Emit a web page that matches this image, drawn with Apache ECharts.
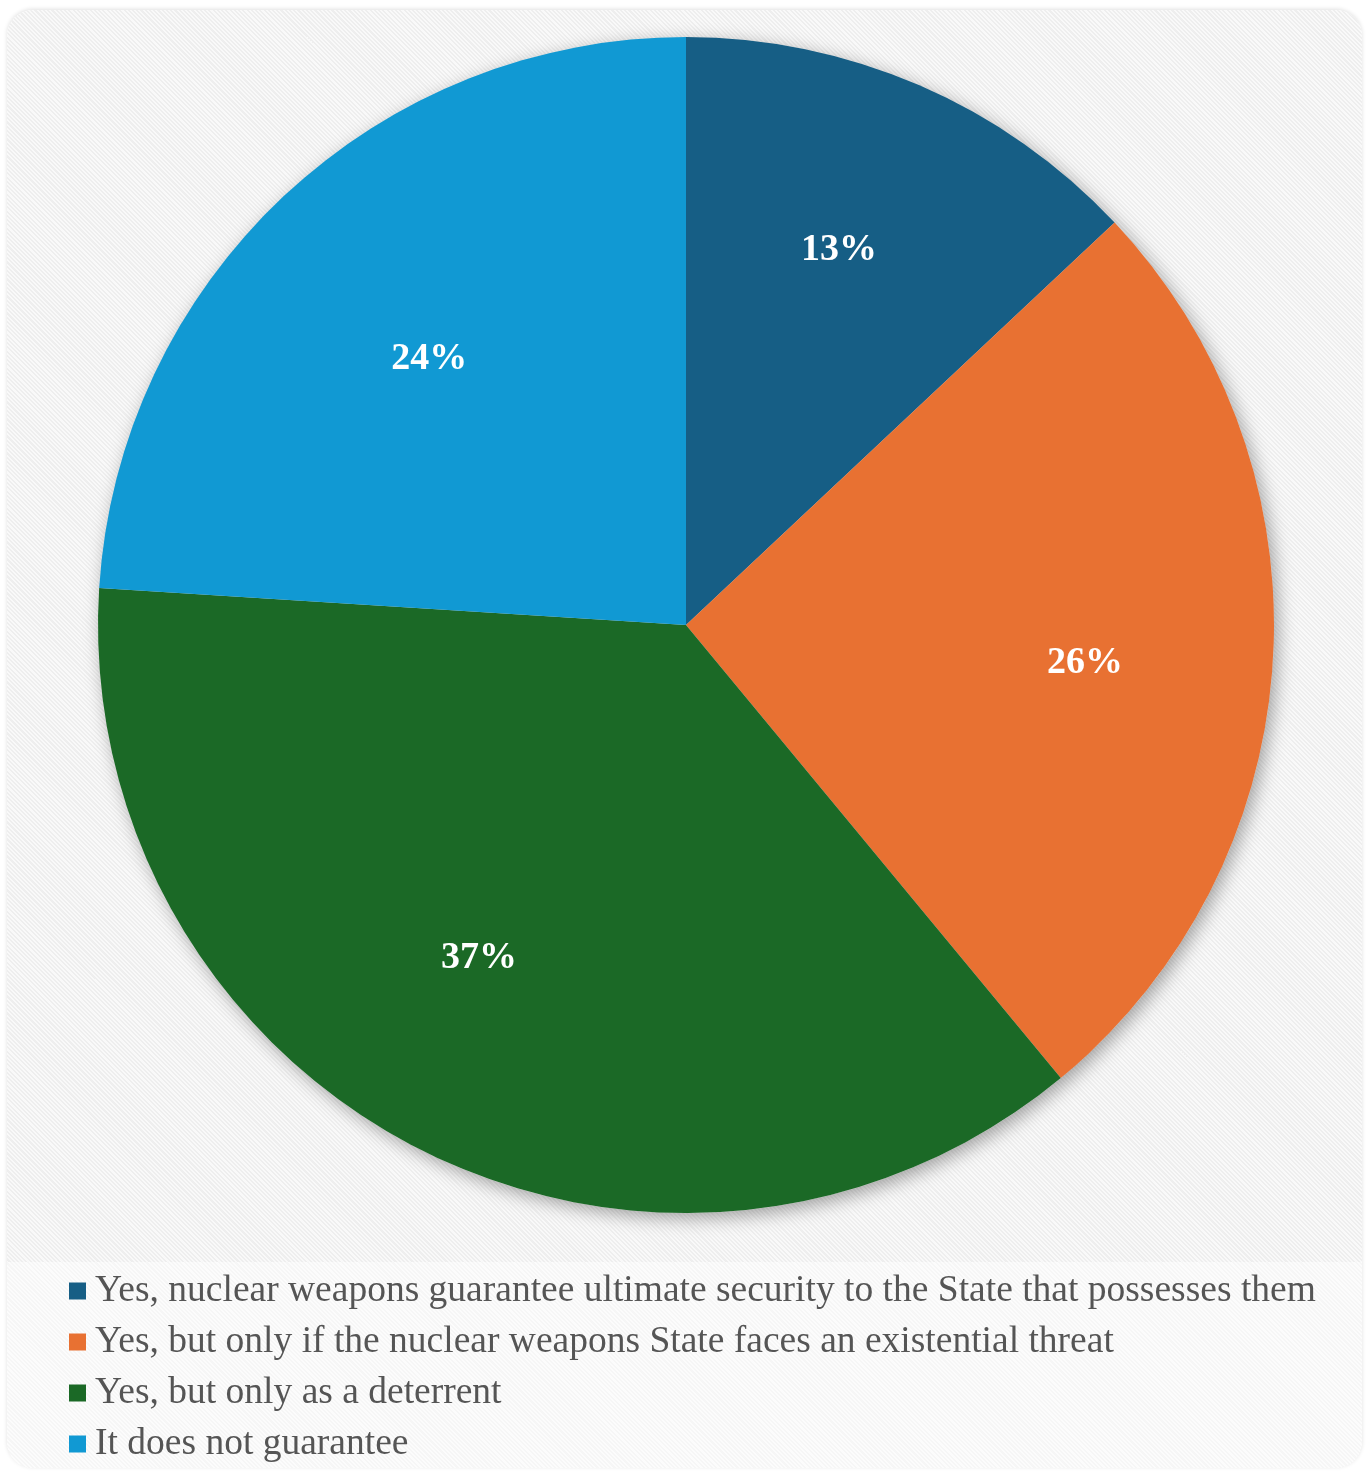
<!DOCTYPE html>
<html>
<head>
<meta charset="utf-8">
<script src="https://cdn.jsdelivr.net/npm/echarts@6/dist/echarts.min.js"></script>
<style>
    html, body {
        margin: 0;
        padding: 0;
        background: #ffffff;
    }
    .card {
        position: absolute;
        left: 7px;
        top: 10px;
        width: 1355px;
        height: 1458px;
        border-radius: 26px;
        overflow: hidden;
        box-shadow: 0 -1px 4px rgba(0, 0, 0, 0.12);
        background: repeating-linear-gradient(45deg, #eeeeee 0px, #eeeeee 1.5px, #f9f9f9 1.5px, #f9f9f9 3px);
    }
    .card .bottom {
        position: absolute;
        left: 0;
        top: 1252px;
        width: 100%;
        height: 210px;
        background: repeating-linear-gradient(45deg, #f6f6f6 0px, #f6f6f6 1.5px, #fcfcfc 1.5px, #fcfcfc 3px);
    }
    #chart {
        position: absolute;
        left: 0;
        top: 0;
        width: 1370px;
        height: 1472px;
    }
</style>
</head>
<body>
<div class="card"><div class="bottom"></div></div>
<div id="chart"></div>
<script>
const categories = [
    'Yes, nuclear weapons guarantee ultimate security to the State that possesses them',
    'Yes, but only if the nuclear weapons State faces an existential threat',
    'Yes, but only as a deterrent',
    'It does not guarantee'
]
const shares = [13, 26, 37, 24]
const colors = ['#165e85', '#e87132', '#1b6926', '#1199d3']

const chartDom = document.getElementById('chart')
const chartInstance = echarts.init(chartDom, null, { renderer: 'canvas' })

const center = [686, 625]
const radius = 588
// small hand nudges so the labels sit where the original put them
const labelNudge = [[-7, -5], [-3, 13], [-24, -26], [19, 28]]

const seriesData = categories.map((name, i) => {
    return {
        name: name,
        value: shares[i],
        itemStyle: { color: colors[i] }
    }
})

const option = {
    backgroundColor: 'transparent',
    animation: false,
    legend: {
        orient: 'vertical',
        left: 69,
        top: 1272,
        height: 200,
        padding: 0,
        icon: 'rect',
        itemWidth: 17,
        itemHeight: 17,
        itemGap: 13,
        selectedMode: false,
        data: categories,
        textStyle: {
            fontFamily: 'Liberation Serif',
            fontSize: 37.5,
            color: '#555555',
            padding: [0, 0, 0, 4]
        }
    },
    series: [
        {
            // plain disc underneath, only for the soft shadow
            type: 'pie',
            silent: true,
            center: center,
            radius: radius,
            label: { show: false },
            labelLine: { show: false },
            itemStyle: {
                color: '#dddddd',
                shadowBlur: 18,
                shadowColor: 'rgba(0,0,0,0.35)',
                shadowOffsetX: 4,
                shadowOffsetY: 5
            },
            data: [{ name: '', value: 1 }]
        },
        {
            type: 'pie',
            center: center,
            radius: radius,
            startAngle: 90,
            clockwise: true,
            label: { show: false },
            labelLine: { show: false },
            itemStyle: { borderWidth: 0 },
            emphasis: { disabled: true },
            data: seriesData
        },
        {
            // transparent ring: puts the labels at about 0.68 of the radius
            type: 'pie',
            silent: true,
            center: center,
            radius: [radius * 0.36, radius],
            startAngle: 90,
            clockwise: true,
            itemStyle: { color: 'rgba(0,0,0,0)' },
            labelLine: { show: false },
            label: {
                show: true,
                position: 'inside',
                formatter: '{c}%',
                color: '#ffffff',
                fontFamily: 'Liberation Serif',
                fontWeight: 'bold',
                fontSize: 38
            },
            data: seriesData.map((d, i) => ({
                name: d.name,
                value: d.value,
                label: { offset: labelNudge[i] }
            }))
        }
    ]
}

chartInstance.setOption(option)
window.addEventListener('resize', () => chartInstance.resize())
</script>
</body>
</html>
